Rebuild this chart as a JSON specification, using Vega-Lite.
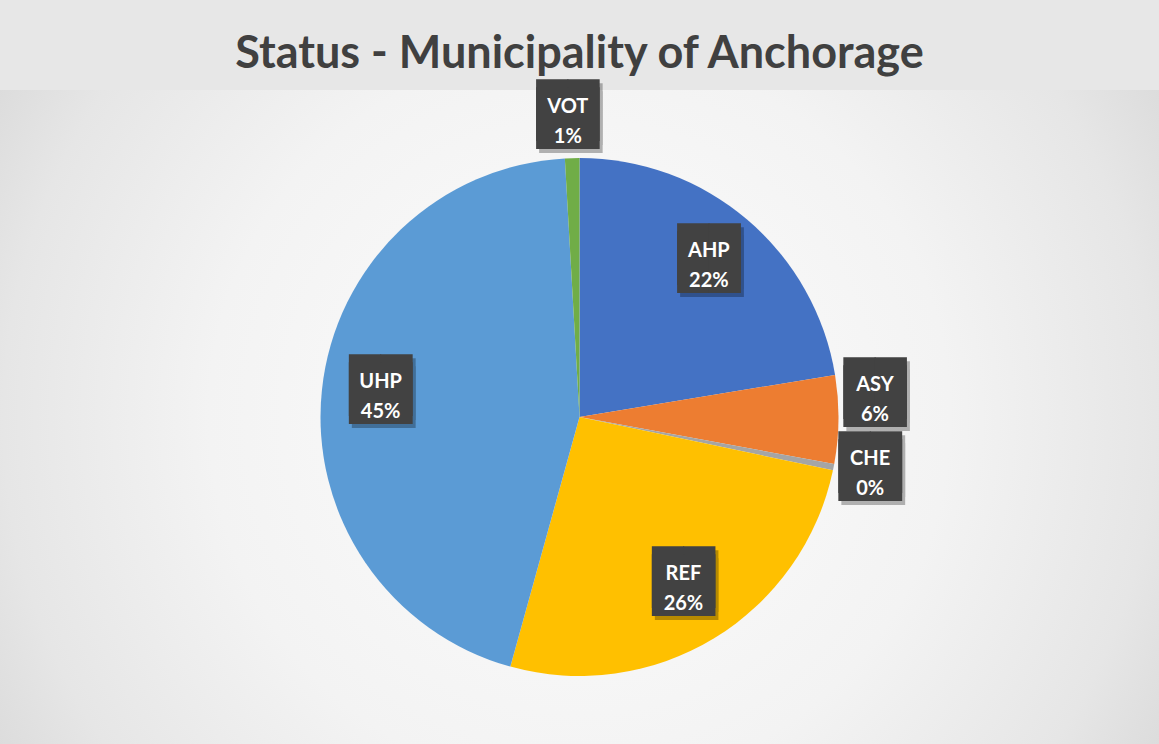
{
  "$schema": "https://vega.github.io/schema/vega-lite/v6.json",
  "autosize": {"type": "fit", "contains": "padding"},
  "width": 1159,
  "height": 744,
  "padding": {"top": 36, "left": 0, "right": 0, "bottom": 0},
  "background": "#e7e7e7",
  "title": {
    "text": "Status - Municipality of Anchorage",
    "font": "Lato",
    "fontSize": 45,
    "fontWeight": "bold",
    "color": "#404040",
    "anchor": "middle",
    "offset": 9
  },
  "config": {"view": {"stroke": null}},
  "data": {
    "values": [
      {"status": "AHP", "value": 22.4},
      {"status": "ASY", "value": 5.5},
      {"status": "CHE", "value": 0.4},
      {"status": "REF", "value": 26.0},
      {"status": "UHP", "value": 44.8},
      {"status": "VOT", "value": 0.9}
    ]
  },
  "transform": [
    {"stack": "value", "groupby": [], "sort": [{"field": "status", "order": "ascending"}], "as": ["v0", "v1"]},
    {"calculate": "datum.value < 10 ? 1 : 0", "as": "outside"},
    {"calculate": "datum.outside == 1 ? datum.v0 + datum.value * 0.3 : (datum.v0 + datum.v1) / 2", "as": "mid"},
    {"calculate": "[datum.status, format(datum.value, '.0f') + '%']", "as": "label"}
  ],
  "layer": [
    {
      "data": {"values": [{}]},
      "transform": [],
      "mark": {
        "type": "rect",
        "fill": {
          "gradient": "radial",
          "x1": 0.5, "y1": 0.5, "r1": 0,
          "x2": 0.5, "y2": 0.5, "r2": 0.71,
          "stops": [
            {"offset": 0, "color": "#fdfdfd"},
            {"offset": 0.45, "color": "#f3f3f3"},
            {"offset": 0.7, "color": "#e6e6e6"},
            {"offset": 1, "color": "#cbcbcb"}
          ]
        }
      },
      "encoding": {
        "x": {"value": 0},
        "x2": {"value": "width"},
        "y": {"value": 0},
        "y2": {"value": "height"}
      }
    },
    {
      "mark": {"type": "arc", "outerRadius": 259},
      "encoding": {
        "theta": {"field": "v0", "type": "quantitative", "scale": {"domain": [0, 100]}},
        "theta2": {"field": "v1"},
        "color": {
          "field": "status",
          "type": "nominal",
          "scale": {
            "domain": ["AHP", "ASY", "CHE", "REF", "UHP", "VOT"],
            "range": ["#4472C4", "#ED7D31", "#A5A5A5", "#FFC000", "#5B9BD5", "#70AD47"]
          },
          "legend": null
        }
      }
    },
    {
      "mark": {"type": "text", "text": ["██", "██"], "lineHeight": 8, "font": "DejaVu Sans Mono", "fontSize": 52, "color": "#000000", "opacity": 0.28, "align": "center", "baseline": "middle", "dx": 3, "dy": -5},
      "encoding": {
        "theta": {"field": "mid", "type": "quantitative"},
        "radius": {"field": "outside", "type": "quantitative", "scale": {"type": "linear", "domain": [0, 1], "range": [200, 296], "zero": false}}
      }
    },
    {
      "mark": {"type": "text", "text": ["██", "██"], "lineHeight": 8, "font": "DejaVu Sans Mono", "fontSize": 52, "color": "#424242", "align": "center", "baseline": "middle", "dy": -9},
      "encoding": {
        "theta": {"field": "mid", "type": "quantitative"},
        "radius": {"field": "outside", "type": "quantitative", "scale": {"type": "linear", "domain": [0, 1], "range": [200, 296], "zero": false}}
      }
    },
    {
      "mark": {"type": "text", "font": "Lato", "fontSize": 20, "fontWeight": "bold", "color": "#ffffff", "align": "center", "baseline": "middle", "lineHeight": 30, "dy": -14},
      "encoding": {
        "theta": {"field": "mid", "type": "quantitative"},
        "radius": {"field": "outside", "type": "quantitative", "scale": {"type": "linear", "domain": [0, 1], "range": [200, 296], "zero": false}},
        "text": {"field": "label"}
      }
    }
  ]
}
